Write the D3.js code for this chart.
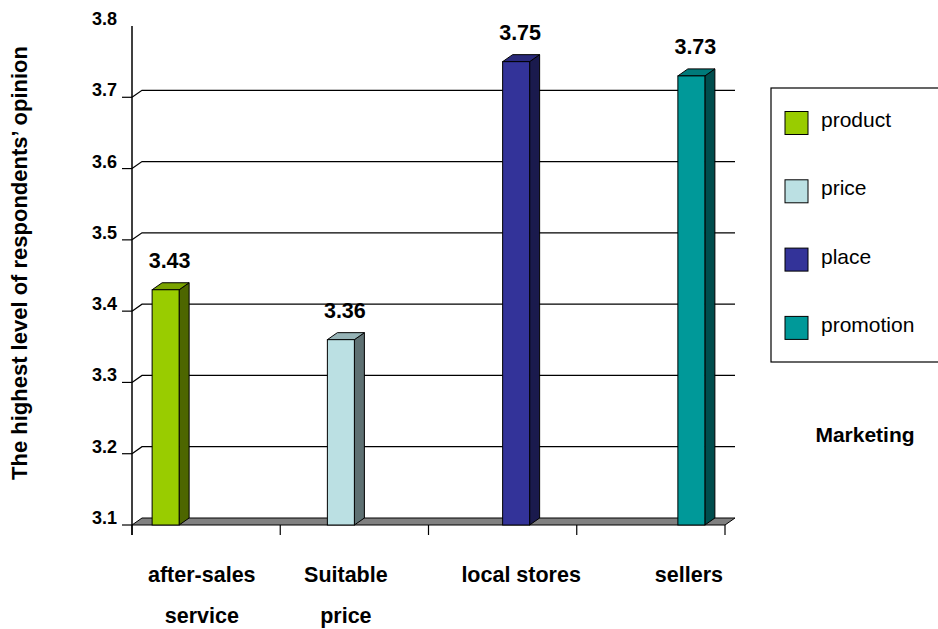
<!DOCTYPE html>
<html><head><meta charset="utf-8">
<script src="https://cdn.jsdelivr.net/npm/d3@7"></script>
<style>body{margin:0;background:#fff}svg{display:block}text{font-family:"Liberation Sans",Arial,sans-serif}</style>
</head><body>
<svg id="c" width="938" height="629"></svg>
<script>
const categories = ["after-sales service", "Suitable price", "local stores", "sellers"];
const categoryLines = [["after-sales", "service"], ["Suitable", "price"], ["local stores"], ["sellers"]];
const seriesNames = ["product", "price", "place", "promotion"];
const productValues = [3.43, null, null, null];
const priceValues = [null, 3.36, null, null];
const placeValues = [null, null, 3.75, null];
const promotionValues = [null, null, null, 3.73];
const yTicks = [3.1, 3.2, 3.3, 3.4, 3.5, 3.6, 3.7, 3.8];
const yTitle = "The highest level of respondents’ opinion";
const xTitle = "Marketing";

const seriesValues = [productValues, priceValues, placeValues, promotionValues];
const frontColors = ["#99CC00", "#BBE0E3", "#333399", "#009999"];
const sideColors = ["#4D6600", "#5E7072", "#1A1A4D", "#004D4D"];
const topColors = ["#7AA300", "#96B3B6", "#29297A", "#007A7A"];

const svg = d3.select("#c");
const DX = 10, DY = -7;
const x0 = 132, x1 = 725;
const y = d3.scaleLinear().domain([3.1, 3.8]).range([525, 26]);
const xb = d3.scaleBand().domain(categories).range([x0, x1]);
const xs = d3.scaleBand().domain(seriesNames).range([0, xb.bandwidth()]).paddingOuter(0.745);

// gridlines (back wall) with diagonal connectors
yTicks.forEach(t => {
  if (t === 3.1 || t === 3.8) return;
  const yy = y(t);
  svg.append("line").attr("x1", x0 - 10).attr("x2", x0).attr("y1", yy).attr("y2", yy).attr("stroke", "#000").attr("stroke-width", 1.2);
  svg.append("path").attr("d", `M${x0},${yy}L${x0 + DX},${yy + DY}L${x1 + DX},${yy + DY}`).attr("fill", "none").attr("stroke", "#000").attr("stroke-width", 1.2);
});
svg.append("line").attr("x1", x0 - 10).attr("x2", x0).attr("y1", y(3.1)).attr("y2", y(3.1)).attr("stroke", "#000").attr("stroke-width", 1.2);

// floor
const yf = y(3.1);
svg.append("path").attr("d", `M${x0},${yf}L${x1},${yf}L${x1 + DX},${yf + DY}L${x0 + DX},${yf + DY}Z`).attr("fill", "#808080").attr("stroke", "#000").attr("stroke-width", 1);

// y axis line
svg.append("line").attr("x1", x0).attr("x2", x0).attr("y1", y(3.8)).attr("y2", yf + 10).attr("stroke", "#000").attr("stroke-width", 1.5);

// x ticks
const xTickPos = categories.map(c => xb(c)).concat([x1]);
xTickPos.forEach(p => {
  svg.append("line").attr("x1", p).attr("x2", p).attr("y1", yf).attr("y2", yf + 10).attr("stroke", "#000").attr("stroke-width", 1.2);
});

// y tick labels
yTicks.forEach(t => {
  svg.append("text").attr("x", 117).attr("y", y(t) - 1).attr("text-anchor", "end")
    .attr("font-size", 18).attr("font-weight", "bold").text(t.toFixed(1));
});

// bars
const barCenters = [];
categories.forEach((c, ci) => {
  seriesNames.forEach((s, si) => {
    const v = seriesValues[si][ci];
    if (v == null) return;
    const bx = xb(c) + xs(s), bw = xs.bandwidth();
    const yt = y(v);
    const g = svg.append("g");
    g.append("path").attr("d", `M${bx + bw},${yf}L${bx + bw + DX},${yf + DY}L${bx + bw + DX},${yt + DY}L${bx + bw},${yt}Z`)
      .attr("fill", sideColors[si]).attr("stroke", "#000").attr("stroke-width", 1).attr("stroke-linejoin", "round");
    g.append("path").attr("d", `M${bx},${yt}L${bx + DX},${yt + DY}L${bx + bw + DX},${yt + DY}L${bx + bw},${yt}Z`)
      .attr("fill", topColors[si]).attr("stroke", "#000").attr("stroke-width", 1).attr("stroke-linejoin", "round");
    g.append("rect").attr("x", bx).attr("y", yt).attr("width", bw).attr("height", yf - yt)
      .attr("fill", frontColors[si]).attr("stroke", "#000").attr("stroke-width", 1);
    svg.append("text").attr("x", bx + bw / 2 + DX / 2 - 1).attr("y", yt + DY - 15)
      .attr("text-anchor", "middle").attr("font-size", 21.5).attr("font-weight", "bold").text(v.toFixed(2));
    barCenters[ci] = bx + bw / 2 + DX / 2;
  });
});

// category labels
categories.forEach((c, ci) => {
  const g = svg.append("g");
  const texts = categoryLines[ci].map((ln, li) =>
    g.append("text").attr("y", 582 + li * 41).attr("text-anchor", "middle")
      .attr("font-size", 21.5).attr("font-weight", "bold").text(ln));
  const maxW = d3.max(texts, t => t.node().getComputedTextLength());
  let cx = Math.max(barCenters[ci], 148 + maxW / 2);
  cx = Math.min(cx, 723 - maxW / 2);
  texts.forEach(t => t.attr("x", cx));
});

// y title
svg.append("text").attr("transform", "translate(27,263) rotate(-90)").attr("text-anchor", "middle")
  .attr("font-size", 22).attr("font-weight", "bold").text(yTitle);

// legend
svg.append("rect").attr("x", 771).attr("y", 88).attr("width", 200).attr("height", 274)
  .attr("fill", "#fff").attr("stroke", "#000").attr("stroke-width", 1.2);
seriesNames.forEach((s, si) => {
  const ly = 123 + si * 68.3;
  svg.append("rect").attr("x", 785).attr("y", ly - 11.5).attr("width", 23).attr("height", 23)
    .attr("fill", frontColors[si]).attr("stroke", "#000").attr("stroke-width", 1);
  svg.append("text").attr("x", 821).attr("y", ly + 4).attr("font-size", 21).text(s);
});

svg.append("text").attr("x", 865).attr("y", 442).attr("text-anchor", "middle")
  .attr("font-size", 21).attr("font-weight", "bold").text(xTitle);
</script>
</body></html>
